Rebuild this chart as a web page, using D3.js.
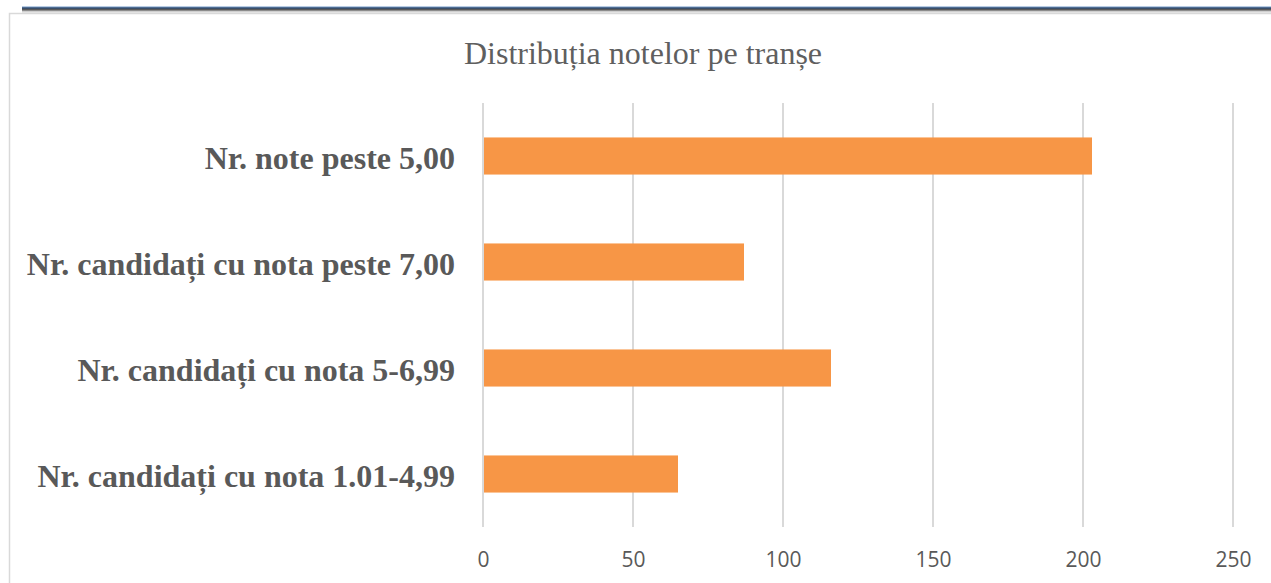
<!DOCTYPE html>
<html lang="ro">
<head>
<meta charset="utf-8">
<title>Distribuția notelor pe tranșe</title>
<script src="https://d3js.org/d3.v7.min.js"></script>
<style>
  body { margin: 0; background: #fff; }
  svg { display: block; }
</style>
</head>
<body>
<script>
// data
const categories = [
  "Nr. note peste 5,00",
  "Nr. candidați cu nota peste 7,00",
  "Nr. candidați cu nota 5-6,99",
  "Nr. candidați cu nota 1.01-4,99"
];
const values = [203, 87, 116, 65];
const xTicks = [0, 50, 100, 150, 200, 250];
const title = "Distribuția notelor pe tranșe";

const width = 1271, height = 583;
const plot = {left: 483, right: 1233, top: 103, bottom: 527};

const svg = d3.select("body").append("svg")
  .attr("width", width)
  .attr("height", height);

// decorative top rule (document header line)
const rule = [["#b8cce4", 6], ["#4f6d92", 7], ["#3a4f6a", 8], ["#5a5a5a", 9], ["#8c8c8c", 10], ["#cfcfcf", 11], ["#e6e6e6", 12]];
rule.forEach(r => {
  svg.append("line")
    .attr("x1", 22).attr("x2", width)
    .attr("y1", r[1] + 0.5).attr("y2", r[1] + 0.5)
    .attr("stroke", r[0]).attr("stroke-width", 1);
});

// chart frame
svg.append("rect")
  .attr("x", 9.5).attr("y", 13.5)
  .attr("width", width + 20).attr("height", height + 20)
  .attr("fill", "none")
  .attr("stroke", "#d9d9d9")
  .attr("stroke-width", 1.5);

// scales
const x = d3.scaleLinear().domain([0, 250]).range([plot.left, plot.right]);
const y = d3.scaleBand().domain(categories).range([plot.top, plot.bottom]).paddingInner(0.65).paddingOuter(0.325);

// gridlines
svg.append("g").selectAll("line")
  .data(xTicks)
  .join("line")
  .attr("x1", d => x(d)).attr("x2", d => x(d))
  .attr("y1", plot.top).attr("y2", plot.bottom)
  .attr("stroke", "#d9d9d9")
  .attr("stroke-width", 2);

// bars
svg.append("g").selectAll("rect")
  .data(values)
  .join("rect")
  .attr("x", x(0) + 1)
  .attr("y", (d, i) => y(categories[i]))
  .attr("width", d => x(d) - x(0) - 1)
  .attr("height", y.bandwidth())
  .attr("fill", "#f79646");

// x axis labels
const xAxis = d3.axisBottom(x).tickValues(xTicks).tickSize(0).tickPadding(0);
const gx = svg.append("g")
  .attr("transform", `translate(0,${plot.bottom})`)
  .call(xAxis);
gx.select(".domain").remove();
gx.selectAll("text")
  .attr("y", 33)
  .attr("dy", "0.35em")
  .attr("fill", "#595959")
  .style("font-family", "'Open Sans', 'Noto Sans', sans-serif")
  .style("font-size", "21px");

// y axis labels
const yAxis = d3.axisLeft(y).tickSize(0).tickPadding(28);
const gy = svg.append("g")
  .attr("transform", `translate(${plot.left},0)`)
  .call(yAxis);
gy.select(".domain").remove();
gy.selectAll("text")
  .attr("dy", "0.42em")
  .attr("fill", "#595959")
  .style("font-family", "'Liberation Serif', 'DejaVu Serif', serif")
  .style("font-weight", "bold")
  .style("font-size", "32px");

// title
svg.append("text")
  .attr("x", 643)
  .attr("y", 64)
  .attr("text-anchor", "middle")
  .attr("fill", "#5f5f5f")
  .style("font-family", "'Liberation Serif', 'DejaVu Serif', serif")
  .style("font-size", "32px")
  .text(title);
</script>
</body>
</html>
